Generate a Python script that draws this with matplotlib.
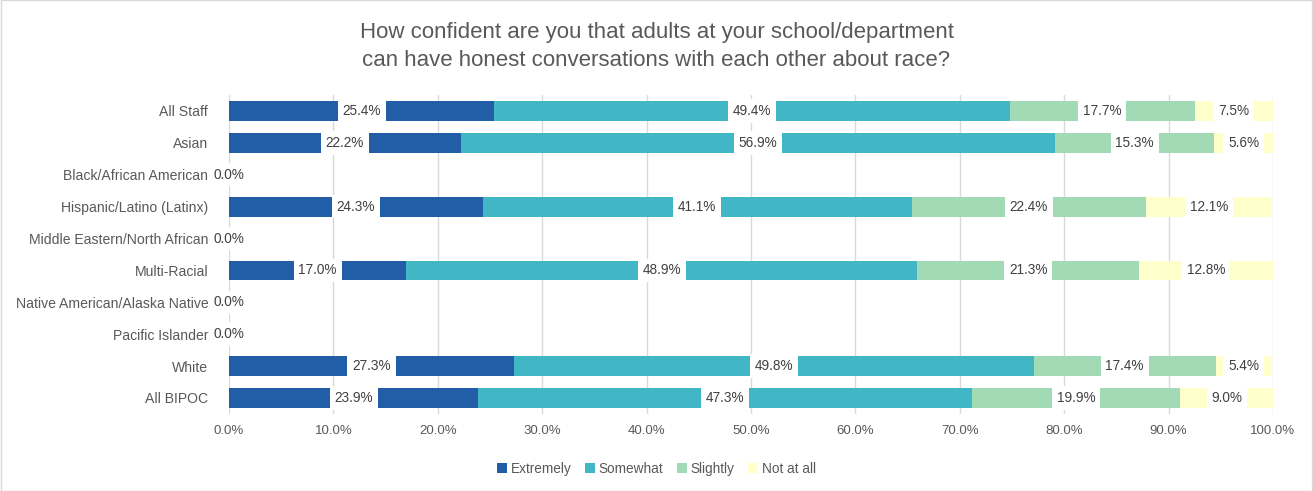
import matplotlib.pyplot as plt
import numpy as np

# ----- Données -----
categories = [
    "All Staff", "Asian", "Black/African American", "Hispanic/Latino (Latinx)",
    "Middle Eastern/North African", "Multi-Racial", "Native American/Alaska Native",
    "Pacific Islander", "White", "All BIPOC",
]
series = ["Extremely", "Somewhat", "Slightly", "Not at all"]
extremely = [25.4, 22.2, 0.0, 24.3, 0.0, 17.0, 0.0, 0.0, 27.3, 23.9]
somewhat = [49.4, 56.9, 0.0, 41.1, 0.0, 48.9, 0.0, 0.0, 49.8, 47.3]
slightly = [17.7, 15.3, 0.0, 22.4, 0.0, 21.3, 0.0, 0.0, 17.4, 19.9]
not_at_all = [7.5, 5.6, 0.0, 12.1, 0.0, 12.8, 0.0, 0.0, 5.4, 9.0]

couleurs = ["#225EA8", "#41B6C4", "#A1DAB4", "#FFFFCC"]
TXT = "#595959"

plt.rcParams["font.family"] = ["Liberation Sans", "DejaVu Sans"]

fig = plt.figure(figsize=(13.13, 4.91), dpi=100)
ax = fig.add_axes([0.1744, 0.157, 0.7951, 0.6495])

y = np.arange(len(categories))
gauche = np.zeros(len(categories))
for nom, vals, c in zip(series, [extremely, somewhat, slightly, not_at_all], couleurs):
    vals = np.array(vals)
    ax.barh(y, vals, left=gauche, height=0.62, color=c, label=nom, zorder=2)
    for yi, (g, v) in enumerate(zip(gauche, vals)):
        # étiquettes "0.0%" seulement pour la première série
        if v == 0 and nom != "Extremely":
            continue
        ax.text(g + v / 2, yi, f"{v:.1f}%", ha="center", va="center",
                fontsize=9.8, color="#404040", zorder=4,
                bbox=dict(boxstyle="square,pad=0.35", fc="white", ec="none"))
    gauche = gauche + vals

ax.set_xlim(0, 100)
ax.set_ylim(len(categories) - 0.5, -0.5)
ax.set_xticks(np.arange(0, 101, 10))
ax.set_xticklabels([f"{t:.1f}%" for t in np.arange(0, 101, 10)])
ax.set_yticks(y)
ax.set_yticklabels(categories)
ax.tick_params(axis="both", length=0, labelsize=9.5, labelcolor=TXT)
ax.tick_params(axis="y", pad=15, labelsize=10.1)
ax.tick_params(axis="x", pad=8)
ax.grid(axis="x", color="#D9D9D9", linewidth=1, zorder=0)
ax.set_axisbelow(True)
for s in ax.spines.values():
    s.set_visible(False)

fig.text(0.5, 0.906, "How confident are you that adults at your school/department\n"
         "can have honest conversations with each other about race?",
         ha="center", va="center", fontsize=16, color=TXT, linespacing=1.45)

fig.legend(loc="center", bbox_to_anchor=(0.5, 0.045), ncol=4, frameon=False,
           fontsize=9.8, labelcolor=TXT, handlelength=0.7, handleheight=0.7,
           handletextpad=0.3, columnspacing=1.0)

fig.patches.append(plt.Rectangle((0.001, 0.001), 0.998, 0.998, transform=fig.transFigure,
                                 fill=False, ec="#D9D9D9", lw=1))

fig.savefig("out.png", dpi=100)
